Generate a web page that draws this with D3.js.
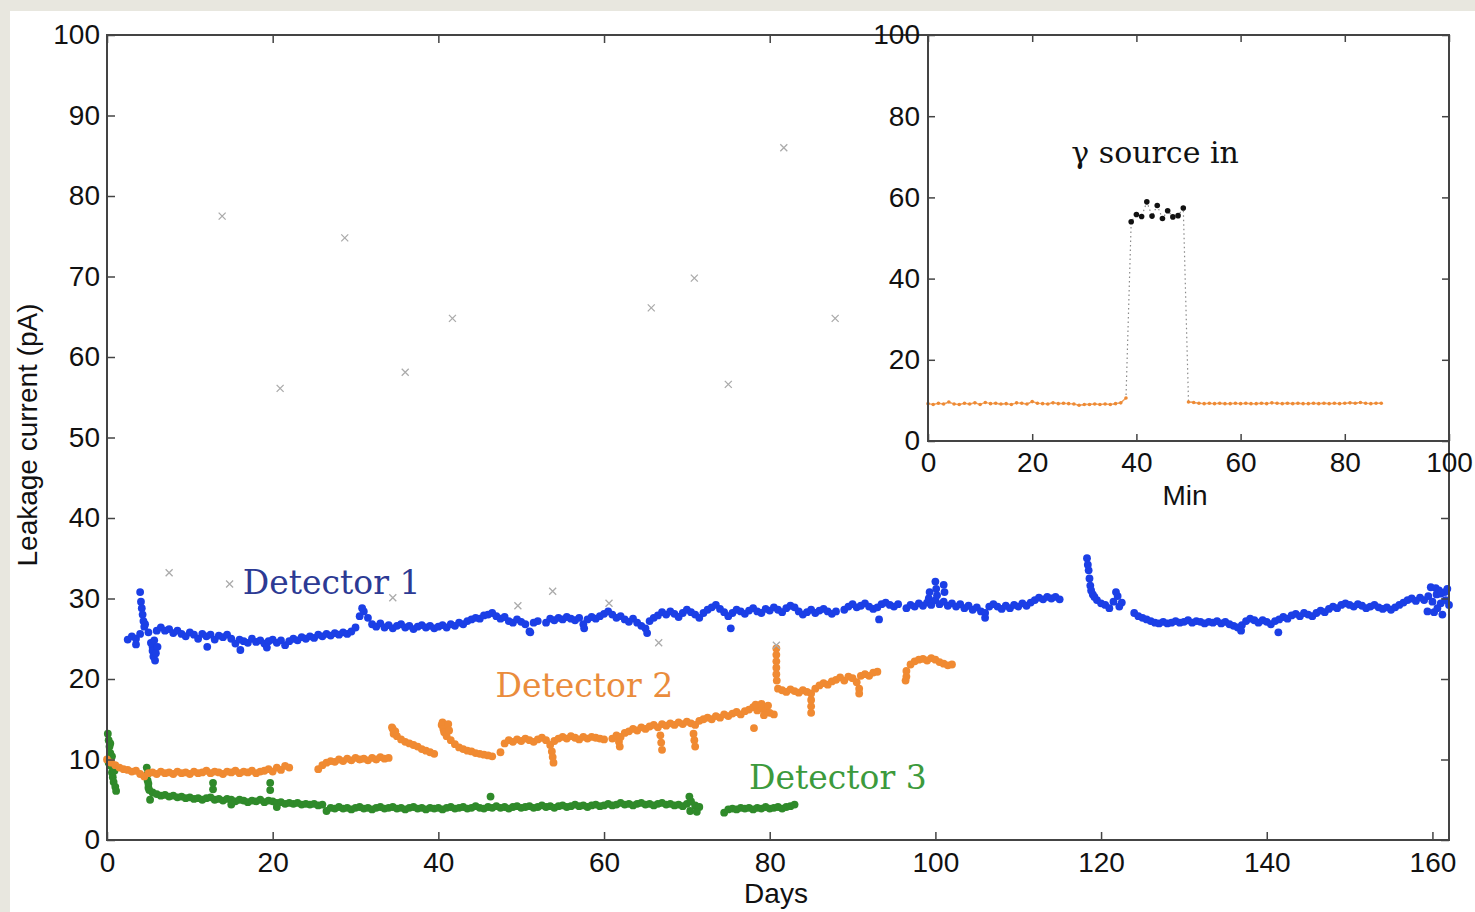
<!DOCTYPE html>
<meta charset="utf-8">
<style>
    body {
        margin: 0;
        background-color: #e8e7df;
    }

    svg {
        display: block;
    }

    .tick text {
        font: 28px "Liberation Sans", Arial, sans-serif;
        fill: #111;
    }

    .tick line {
        stroke: #444;
        stroke-width: 1.5;
    }

    .axisTitle {
        font: 28px "Liberation Sans", Arial, sans-serif;
        fill: #111;
    }

    .label {
        font-family: "DejaVu Serif", serif;
        font-size: 33px;
    }
</style>

<body>
    <script src="https://cdn.jsdelivr.net/npm/d3@7"></script>
    <script>
        // ---- data: leakage current (pA) sampled every half day, split where the record breaks
        var step = 0.5;

        var det1Segments = [
            { start: 2.5, values: [24.9, 25.3, 25.0, 25.6, 26.5, 25.8, 24.0, 26.0, 26.4, 26.0,
                26.2, 25.7, 26.0, 25.6, 25.3, 25.8, 25.5, 25.0, 25.6, 25.3,
                25.5, 24.9, 25.4, 25.2, 25.5, 25.0, 24.4, 24.9, 24.7, 24.5,
                25.0, 24.6, 24.8, 24.4, 24.7, 24.9, 24.5, 24.8, 24.2, 24.7,
                25.0, 24.8, 25.2, 25.0, 25.3, 25.1, 25.5, 25.3, 25.6, 25.4,
                25.7, 25.5, 25.8, 25.6, 25.9, 26.4, 27.8, 28.4, 27.6, 26.8,
                26.5, 26.9, 26.4, 26.7, 26.3, 26.6, 26.8, 26.4, 26.6, 26.2,
                26.5, 26.7, 26.4, 26.6, 26.3, 26.5, 26.7, 26.4, 26.8, 26.6,
                27.0, 26.8, 27.2, 27.4, 27.6, 27.5, 27.9, 28.0, 28.2, 27.8,
                27.5, 27.7, 27.2, 27.0, 27.4, 27.1, 26.8, 25.9, 27.0, 27.2] },
            { start: 53.0, values: [27.0, 27.5, 27.3, 27.6, 27.4, 27.7, 27.5, 27.3, 27.6, 26.8,
                27.4, 27.7, 27.5, 27.8, 28.1, 28.4, 28.0, 27.6, 27.8, 27.4,
                27.1, 27.5, 27.0, 26.6, 26.3, 27.2, 27.6, 27.9, 28.3, 28.0,
                28.4, 28.1, 27.7, 28.2, 28.6, 28.3, 28.0, 27.6, 28.2, 28.6,
                28.9, 29.2, 28.7, 28.3, 27.8, 28.2, 28.6, 28.4, 28.1, 28.5,
                28.8, 28.4, 28.2, 28.7, 28.5, 28.9, 28.6, 28.3, 28.8, 29.1,
                28.9, 28.4, 28.0, 28.3, 28.6, 28.2, 28.5, 28.7, 28.4, 28.1, 28.4] },
            { start: 89.0, values: [28.6, 29.0, 29.3, 28.9, 29.1, 29.4, 29.0, 28.7, 28.9, 29.3,
                29.5, 29.2, 29.0, 29.3] },
            { start: 96.5, values: [28.8, 29.2, 29.0, 29.4, 29.1, 29.5, 29.2, 29.8, 29.3, 29.6,
                29.1, 29.4, 29.0, 29.3, 28.8, 29.1, 28.6, 28.9, 28.4, 28.2,
                29.0, 29.3, 29.0, 28.7, 29.1, 28.8, 29.2, 29.0, 29.4, 29.1,
                29.5, 29.8, 30.1, 29.9, 30.2, 30.0, 30.2, 29.9] },
            { start: 118.5, values: [33.5, 30.5, 29.8, 29.4, 29.2, 28.8, 29.6, 30.3, 29.5] },
            { start: 124.0, values: [28.2, 27.8, 27.6, 27.4, 27.2, 27.0, 26.9, 27.1, 26.9, 27.0,
                27.2, 27.0, 27.1, 27.3, 27.0, 27.2, 27.1, 26.9, 27.1, 27.0,
                27.2, 26.9, 27.1, 26.8, 26.6, 26.4, 26.7, 27.2, 27.5, 27.3,
                27.0, 27.3, 27.1, 26.8, 27.2, 27.4, 27.7, 27.5, 27.9, 28.1,
                27.8, 28.2, 28.0, 27.8, 28.2, 28.5, 28.3, 28.7, 29.0, 28.8,
                29.2, 29.4, 29.2, 29.0, 29.3, 29.1, 28.8, 29.0, 29.2, 28.9,
                28.7, 28.9, 28.6, 28.9, 29.2, 29.5, 29.8, 30.0, 29.7, 30.1,
                29.8, 30.3, 29.6, 30.5, 29.4, 30.8, 29.2] }
        ];
        // single readings off the band (spikes after interventions)
        var det1Extra = [[3.5, 24.3], [4.0, 30.8], [4.1, 29.6], [4.2, 28.8], [4.3, 28.0], [4.4, 27.2],
            [4.6, 26.8], [5.3, 24.5], [5.5, 23.5], [5.6, 22.8], [5.7, 24.8], [5.8, 22.3], [5.9, 23.2],
            [6.1, 24.0], [12.1, 24.0], [16.1, 23.6], [19.3, 23.9], [30.8, 28.8], [51.1, 25.8],
            [57.6, 26.3], [65.2, 25.7], [75.3, 26.3], [93.2, 27.4], [99.2, 30.0], [99.3, 30.8],
            [100.0, 32.1], [100.1, 31.2], [100.2, 30.4], [101.0, 31.7], [101.1, 30.8], [106.0, 27.6],
            [118.3, 35.0], [118.4, 34.2], [118.6, 32.5], [118.7, 31.6], [118.8, 31.0], [119.2, 30.2],
            [121.8, 30.8], [122.2, 29.0], [136.9, 26.0], [141.4, 25.8], [159.4, 28.4], [159.8, 31.4],
            [160.2, 28.3], [160.4, 31.3], [160.6, 28.8], [160.8, 31.0], [161.0, 30.6], [161.2, 28.0],
            [161.6, 29.8], [161.8, 31.2]];

        var det2Segments = [
            { start: 0.0, values: [10.0, 9.6, 9.3, 9.0, 8.8, 8.7, 8.5, 8.6, 8.2, 7.9,
                8.3, 8.4, 8.2, 8.5, 8.3, 8.4, 8.2, 8.5, 8.3, 8.4,
                8.2, 8.5, 8.3, 8.4, 8.6, 8.3, 8.5, 8.4, 8.2, 8.5,
                8.4, 8.6, 8.3, 8.5, 8.4, 8.6, 8.3, 8.5, 8.6, 8.8,
                8.5, 9.0, 8.7, 9.2, 9.0] },
            { start: 25.5, values: [8.8, 9.3, 9.6, 9.8, 9.7, 10.0, 9.8, 10.1, 9.9, 10.2,
                10.0, 10.1, 9.9, 10.2, 10.0, 10.3, 10.1, 10.2] },
            { start: 34.5, values: [13.8, 12.9, 12.5, 12.2, 12.0, 11.8, 11.6, 11.3, 11.1, 10.9, 10.7] },
            { start: 40.5, values: [14.6, 12.9, 12.4, 11.9, 11.5, 11.3, 11.1, 11.0, 10.8, 10.7,
                10.6, 10.5, 10.4] },
            { start: 47.5, values: [10.9, 12.0, 12.4, 12.2, 12.5, 12.3, 12.6, 12.4, 12.2, 12.5,
                12.7, 12.4, 11.8, 12.3, 12.6, 12.8, 12.6, 12.9, 12.7, 12.5,
                12.8, 12.6, 12.8, 12.7, 12.6, 12.5] },
            { start: 61.0, values: [12.6, 13.0, 12.8, 13.3, 13.5, 13.8, 13.6, 14.0, 13.8, 14.1,
                14.3, 14.0, 14.4, 14.2, 14.5, 14.3, 14.6, 14.4, 14.7, 14.5,
                14.3, 14.8, 15.0, 15.2, 15.0, 15.4, 15.2, 15.6, 15.4, 15.7,
                15.9, 15.6, 16.0, 16.2, 16.5, 16.1, 16.4, 16.0, 15.8, 15.6] },
            { start: 81.0, values: [18.8, 18.6, 18.4, 18.7, 18.5, 18.3, 18.6, 18.4, 18.2, 18.8,
                19.2, 19.5, 19.3, 19.7, 19.9, 20.2, 19.8, 20.3, 20.1, 19.6,
                20.4, 20.6, 20.4, 20.8, 20.9] },
            { start: 96.5, values: [20.3, 21.8, 22.2, 22.4, 22.5, 22.3, 22.6, 22.4, 22.1, 21.9, 21.7, 21.8] }
        ];
        var det2Extra = [[34.4, 14.0], [34.6, 13.2], [34.8, 13.5], [40.4, 14.3], [40.6, 13.8],
            [40.7, 13.4], [41.2, 14.4], [41.3, 13.6], [53.7, 11.0], [53.8, 10.3], [53.9, 9.6],
            [61.8, 12.2], [61.9, 11.6], [66.8, 13.0], [66.9, 12.1], [67.0, 11.2], [70.8, 13.2],
            [70.9, 12.4], [71.0, 11.6], [78.1, 13.9], [78.3, 16.8], [79.0, 16.9], [79.3, 15.5],
            [79.8, 16.7], [80.8, 23.8], [80.8, 23.0], [80.8, 22.2], [80.8, 21.4], [80.8, 20.6],
            [80.85, 19.8], [85.0, 17.4], [85.0, 16.6], [85.0, 15.8], [90.8, 18.8], [90.8, 18.2],
            [96.4, 19.8], [96.5, 21.0]];

        var det3Segments = [
            { start: 5.0, values: [6.5, 5.9, 5.7, 5.5, 5.6, 5.4, 5.5, 5.3, 5.4, 5.2,
                5.3, 5.1, 5.2, 5.0, 5.2, 5.3, 5.0, 5.1, 4.9, 5.1,
                5.0, 4.8, 5.0, 4.9, 4.7, 4.9, 4.8, 5.0, 4.7, 4.9,
                4.8, 4.6, 4.7, 4.5, 4.6, 4.5, 4.6, 4.4, 4.5, 4.4,
                4.5, 4.3, 4.4] },
            { start: 26.5, values: [3.6, 4.0, 3.9, 4.1, 3.9, 4.0, 3.8, 4.0, 4.1, 3.9,
                4.0, 3.8, 4.0, 4.1, 3.9, 4.0, 4.1, 3.9, 4.0, 3.8,
                4.0, 4.1, 3.9, 4.0, 3.8, 4.0] },
            { start: 39.5, values: [3.9, 4.0, 3.8, 4.0, 4.1, 3.9, 4.0, 4.1, 3.9, 4.0,
                4.2, 4.0, 3.9, 4.1, 4.0, 4.2, 4.0, 4.1, 3.9, 4.1,
                4.2, 4.0, 4.1, 4.2, 4.0, 4.1, 4.3, 4.1, 4.2, 4.0,
                4.2, 4.3, 4.1, 4.2, 4.4, 4.2, 4.3, 4.1, 4.3, 4.4,
                4.2, 4.3, 4.5, 4.3, 4.4, 4.6, 4.4, 4.5, 4.3, 4.5,
                4.6, 4.4, 4.5, 4.3, 4.5, 4.6, 4.4, 4.5, 4.3, 4.4,
                4.2, 4.5, 4.8, 4.3, 4.1] },
            { start: 74.5, values: [3.4, 3.8, 3.9, 3.8, 4.0, 3.9, 4.0, 3.8, 4.0, 3.9,
                4.1, 3.9, 4.0, 4.1, 3.9, 4.1, 4.2, 4.4] }
        ];
        var det3Extra = [[0.1, 13.2], [0.2, 12.4], [0.3, 11.6], [0.4, 10.8], [0.3, 10.0], [0.5, 9.2],
            [0.6, 8.4], [0.7, 7.8], [0.8, 7.2], [1.0, 6.6], [1.1, 6.1], [0.2, 9.6], [0.4, 12.0],
            [0.6, 10.4], [0.9, 8.6], [4.8, 9.0], [4.9, 8.2], [4.9, 7.4], [5.0, 7.0], [5.1, 6.2],
            [5.2, 5.0], [12.8, 7.1], [12.8, 6.3], [15.0, 4.4], [19.7, 7.1], [19.7, 6.2], [20.5, 4.1],
            [46.3, 5.4], [70.3, 5.4], [70.4, 3.6], [71.2, 3.5]];

        // outliers drawn as grey crosses
        var outlierDays = [13.9, 20.9, 28.7, 36.0, 41.7, 65.7, 70.9, 75.0, 81.7, 87.9,
            7.5, 14.8, 34.5, 49.6, 53.8, 60.6, 66.6, 80.8];
        var outlierValues = [77.5, 56.1, 74.8, 58.1, 64.8, 66.1, 69.8, 56.6, 86.0, 64.8,
            33.2, 31.8, 30.1, 29.1, 30.9, 29.4, 24.5, 24.2];

        // inset: one reading per minute, gamma source in between min 39 and 49
        var insetBefore = [9.2, 9.0, 9.3, 9.1, 9.6, 9.1, 9.0, 9.3, 9.1, 9.4,
            9.0, 9.5, 9.2, 9.3, 9.1, 9.2, 9.0, 9.4, 9.3, 9.1,
            9.7, 9.3, 9.2, 9.1, 9.4, 9.2, 9.3, 9.2, 9.1, 8.8,
            9.0, 9.0, 9.1, 9.0, 9.1, 9.0, 9.2, 9.4, 10.6];
        var insetSource = [54.0, 55.8, 55.3, 58.9, 55.4, 58.0, 54.8, 56.7, 55.2, 55.5, 57.4];
        var insetAfter = [9.6, 9.5, 9.3, 9.2, 9.3, 9.2, 9.3, 9.2, 9.2, 9.3,
            9.2, 9.3, 9.2, 9.2, 9.3, 9.2, 9.4, 9.3, 9.2, 9.3,
            9.2, 9.3, 9.2, 9.2, 9.3, 9.2, 9.3, 9.2, 9.3, 9.2,
            9.3, 9.4, 9.3, 9.5, 9.3, 9.2, 9.3, 9.3];

        var dayTicks = [0, 20, 40, 60, 80, 100, 120, 140, 160],
            currentTicks = [0, 10, 20, 30, 40, 50, 60, 70, 80, 90, 100],
            minTicks = [0, 20, 40, 60, 80, 100],
            insetCurrentTicks = [0, 20, 40, 60, 80, 100];

        // ---- layout
        var W = 1475, H = 912;
        var plot = { left: 107, right: 1449, top: 35, bottom: 840 };
        var inset = { left: 928, right: 1449, top: 35, bottom: 441 };

        var svg = d3.select("body").append("svg")
            .attr("width", W)
            .attr("height", H);

        svg.append("rect")
            .attr("x", 10).attr("y", 11)
            .attr("width", W - 10).attr("height", H - 11)
            .attr("fill", "#fff");

        var x = d3.scaleLinear().domain([0, 162]).range([plot.left, plot.right]);
        var y = d3.scaleLinear().domain([0, 100]).range([plot.bottom, plot.top]);

        function expand(segments, extra) {
            var pts = [];
            segments.forEach(function(s) {
                s.values.forEach(function(v, i) {
                    pts.push({ day: s.start + i * step, value: v });
                });
            });
            extra.forEach(function(e) {
                pts.push({ day: e[0], value: e[1] });
            });
            return pts;
        }

        var series = [
            { pts: expand(det3Segments, det3Extra), color: "#2f8a2a" },
            { pts: expand(det2Segments, det2Extra), color: "#f08a32" },
            { pts: expand(det1Segments, det1Extra), color: "#1b3fe6" }
        ];

        var main = svg.append("g");

        series.forEach(function(s) {
            main.append("g").selectAll("circle")
                .data(s.pts)
                .enter().append("circle")
                .attr("cx", function(d) { return x(d.day); })
                .attr("cy", function(d) { return y(d.value); })
                .attr("r", 3.9)
                .attr("fill", s.color);
        });

        var crossPath = "M-3.5,-3.5L3.5,3.5M-3.5,3.5L3.5,-3.5";
        main.append("g").selectAll("path")
            .data(d3.range(outlierDays.length))
            .enter().append("path")
            .attr("transform", function(i) {
                return "translate(" + x(outlierDays[i]) + "," + y(outlierValues[i]) + ")";
            })
            .attr("d", crossPath)
            .attr("stroke", "#ababab")
            .attr("stroke-width", 1.3)
            .attr("fill", "none");

        // detector labels
        main.append("text").attr("class", "label")
            .attr("x", x(16.4)).attr("y", y(30.6))
            .attr("fill", "#2c3a94").text("Detector 1");
        main.append("text").attr("class", "label")
            .attr("x", x(46.9)).attr("y", y(17.8))
            .attr("fill", "#ea8c3c").text("Detector 2");
        main.append("text").attr("class", "label")
            .attr("x", x(77.5)).attr("y", y(6.3))
            .attr("fill", "#3c9a3c").text("Detector 3");

        // main axes (ticks point inward, box around)
        function clean(g) {
            g.select(".domain").remove();
        }

        svg.append("g")
            .attr("transform", "translate(0," + plot.bottom + ")")
            .call(d3.axisBottom(x).tickValues(dayTicks).tickSizeInner(-8).tickSizeOuter(0).tickPadding(12))
            .call(clean);
        svg.append("g")
            .attr("transform", "translate(0," + plot.top + ")")
            .call(d3.axisTop(x).tickValues(dayTicks).tickSizeInner(-8).tickSizeOuter(0).tickFormat(""))
            .call(clean);
        svg.append("g")
            .attr("transform", "translate(" + plot.left + ",0)")
            .call(d3.axisLeft(y).tickValues(currentTicks).tickSizeInner(-8).tickSizeOuter(0).tickPadding(7))
            .call(clean);
        svg.append("g")
            .attr("transform", "translate(" + plot.right + ",0)")
            .call(d3.axisRight(y).tickValues(currentTicks).tickSizeInner(-8).tickSizeOuter(0).tickFormat(""))
            .call(clean);

        svg.append("rect")
            .attr("x", plot.left).attr("y", plot.top)
            .attr("width", plot.right - plot.left).attr("height", plot.bottom - plot.top)
            .attr("fill", "none").attr("stroke", "#444").attr("stroke-width", 2);

        svg.append("text").attr("class", "axisTitle")
            .attr("text-anchor", "middle")
            .attr("transform", "translate(37,435) rotate(-90)")
            .text("Leakage current (pA)");
        svg.append("text").attr("class", "axisTitle")
            .attr("text-anchor", "middle")
            .attr("x", 776).attr("y", 903)
            .text("Days");

        // ---- inset
        var ix = d3.scaleLinear().domain([0, 100]).range([inset.left, inset.right]);
        var iy = d3.scaleLinear().domain([0, 100]).range([inset.bottom, inset.top]);

        var ins = svg.append("g");
        ins.append("rect")
            .attr("x", inset.left).attr("y", inset.top)
            .attr("width", inset.right - inset.left).attr("height", inset.bottom - inset.top)
            .attr("fill", "#fff");

        var before = insetBefore.map(function(v, i) { return { m: i, value: v }; });
        var during = insetSource.map(function(v, i) { return { m: 39 + i, value: v }; });
        var after = insetAfter.map(function(v, i) { return { m: 50 + i, value: v }; });
        var all = before.concat(during, after);

        var line = d3.line()
            .x(function(d) { return ix(d.m); })
            .y(function(d) { return iy(d.value); });

        ins.append("path")
            .datum(all)
            .attr("d", line)
            .attr("fill", "none")
            .attr("stroke", "#8a8a8a")
            .attr("stroke-width", 1.2)
            .attr("stroke-dasharray", "1.5,3");

        [before, after].forEach(function(seg) {
            ins.append("path")
                .datum(seg)
                .attr("d", line)
                .attr("fill", "none")
                .attr("stroke", "#f3a35e")
                .attr("stroke-width", 1.4);
            ins.append("g").selectAll("circle")
                .data(seg)
                .enter().append("circle")
                .attr("cx", function(d) { return ix(d.m); })
                .attr("cy", function(d) { return iy(d.value); })
                .attr("r", 1.8)
                .attr("fill", "#ee8a34");
        });

        ins.append("g").selectAll("circle")
            .data(during)
            .enter().append("circle")
            .attr("cx", function(d) { return ix(d.m); })
            .attr("cy", function(d) { return iy(d.value); })
            .attr("r", 2.8)
            .attr("fill", "#111");

        ins.append("text")
            .attr("x", ix(27.5)).attr("y", iy(68.5))
            .style("font", "30px 'DejaVu Serif', serif")
            .attr("fill", "#111")
            .text("γ source in");

        svg.append("g")
            .attr("transform", "translate(0," + inset.bottom + ")")
            .call(d3.axisBottom(ix).tickValues(minTicks).tickSizeInner(-7).tickSizeOuter(0).tickPadding(11))
            .call(clean);
        svg.append("g")
            .attr("transform", "translate(0," + inset.top + ")")
            .call(d3.axisTop(ix).tickValues(minTicks).tickSizeInner(-7).tickSizeOuter(0).tickFormat(""))
            .call(clean);
        svg.append("g")
            .attr("transform", "translate(" + inset.left + ",0)")
            .call(d3.axisLeft(iy).tickValues(insetCurrentTicks).tickSizeInner(-7).tickSizeOuter(0).tickPadding(8))
            .call(clean);
        svg.append("g")
            .attr("transform", "translate(" + inset.right + ",0)")
            .call(d3.axisRight(iy).tickValues(insetCurrentTicks).tickSizeInner(-7).tickSizeOuter(0).tickFormat(""))
            .call(clean);

        svg.append("rect")
            .attr("x", inset.left).attr("y", inset.top)
            .attr("width", inset.right - inset.left).attr("height", inset.bottom - inset.top)
            .attr("fill", "none").attr("stroke", "#444").attr("stroke-width", 2);

        svg.append("text").attr("class", "axisTitle")
            .attr("text-anchor", "middle")
            .attr("x", 1185).attr("y", 505)
            .text("Min");
    </script>
</body>

</html>
